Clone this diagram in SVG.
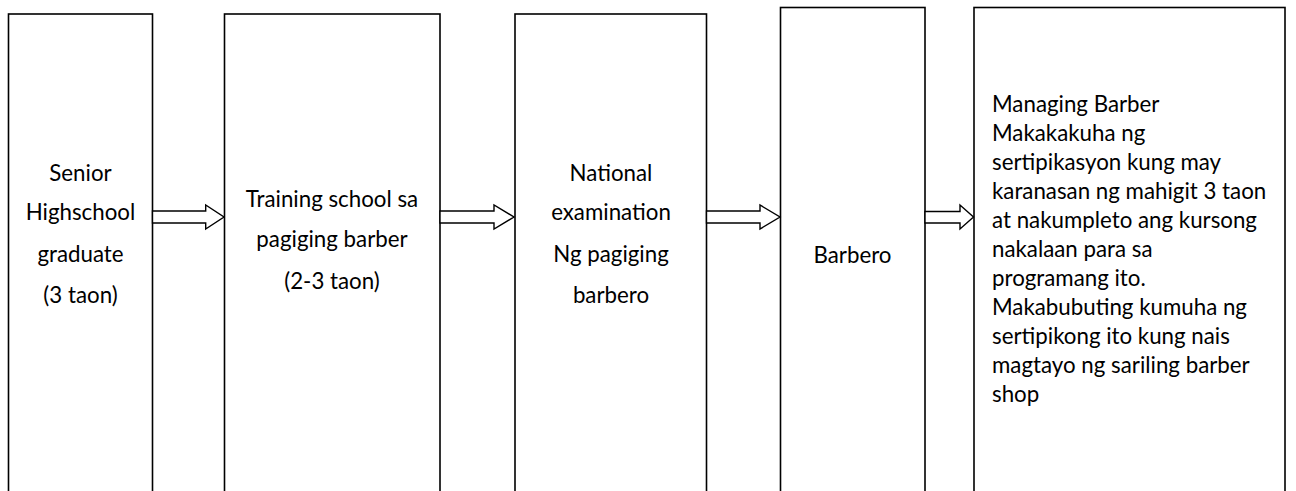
<svg xmlns="http://www.w3.org/2000/svg" width="1296" height="491" viewBox="0 0 1296 491">
<style>
.box{fill:#fff;stroke:#000;stroke-width:1.6}
.arr{fill:#fff;stroke:#000;stroke-width:1.4;stroke-linejoin:miter}
text{font-family:Lato,"Open Sans","Liberation Sans",sans-serif;font-size:22.3px;fill:#000}
.c{text-anchor:middle}
</style>
<rect width="1296" height="491" fill="#fff"/>
<g id="n1">
<rect class="box" x="8.5" y="14" width="144" height="500"/>
<text class="c" x="80.5" y="181">Senior</text>
<text class="c" x="80.5" y="220">Highschool</text>
<text class="c" x="80.5" y="262">graduate</text>
<text class="c" x="80.5" y="303">(3 taon)</text>
</g>
<g id="n2">
<rect class="box" x="224.5" y="14" width="215.5" height="500"/>
<text class="c" x="332" y="207">Training school sa</text>
<text class="c" x="332" y="247">pagiging barber</text>
<text class="c" x="332" y="289">(2-3 taon)</text>
</g>
<g id="n3">
<rect class="box" x="515" y="14" width="191.5" height="500"/>
<text class="c" x="611" y="181">National</text>
<text class="c" x="611" y="220">examination</text>
<text class="c" x="611" y="262">Ng pagiging</text>
<text class="c" x="611" y="303">barbero</text>
</g>
<g id="n4">
<rect class="box" x="780.5" y="7.5" width="144.5" height="500"/>
<text class="c" x="852.5" y="263">Barbero</text>
</g>
<g id="n5">
<rect class="box" x="974" y="7.5" width="311" height="500"/>
<text x="992" y="112">Managing Barber</text>
<text x="992" y="141">Makakakuha ng</text>
<text x="992" y="170">sertipikasyon kung may</text>
<text x="992" y="199">karanasan ng mahigit 3 taon</text>
<text x="992" y="228">at nakumpleto ang kursong</text>
<text x="992" y="257">nakalaan para sa</text>
<text x="992" y="286">programang ito.</text>
<text x="992" y="315">Makabubuting kumuha ng</text>
<text x="992" y="344">sertipikong ito kung nais</text>
<text x="992" y="373">magtayo ng sariling barber</text>
<text x="992" y="402">shop</text>
</g>
<g id="connectors">
<polygon class="arr" points="152.5,211 205.7,211 205.7,205 224,217 205.7,229 205.7,223 152.5,223"/>
<polygon class="arr" points="440,211 494,211 494,205 514,217 494,229 494,223 440,223"/>
<polygon class="arr" points="706.5,211 760,211 760,205 780,217 760,229 760,223 706.5,223"/>
<polygon class="arr" points="925,211.5 960,211.5 960,205 973.5,217 960,229 960,223 925,223"/>
</g>
</svg>
